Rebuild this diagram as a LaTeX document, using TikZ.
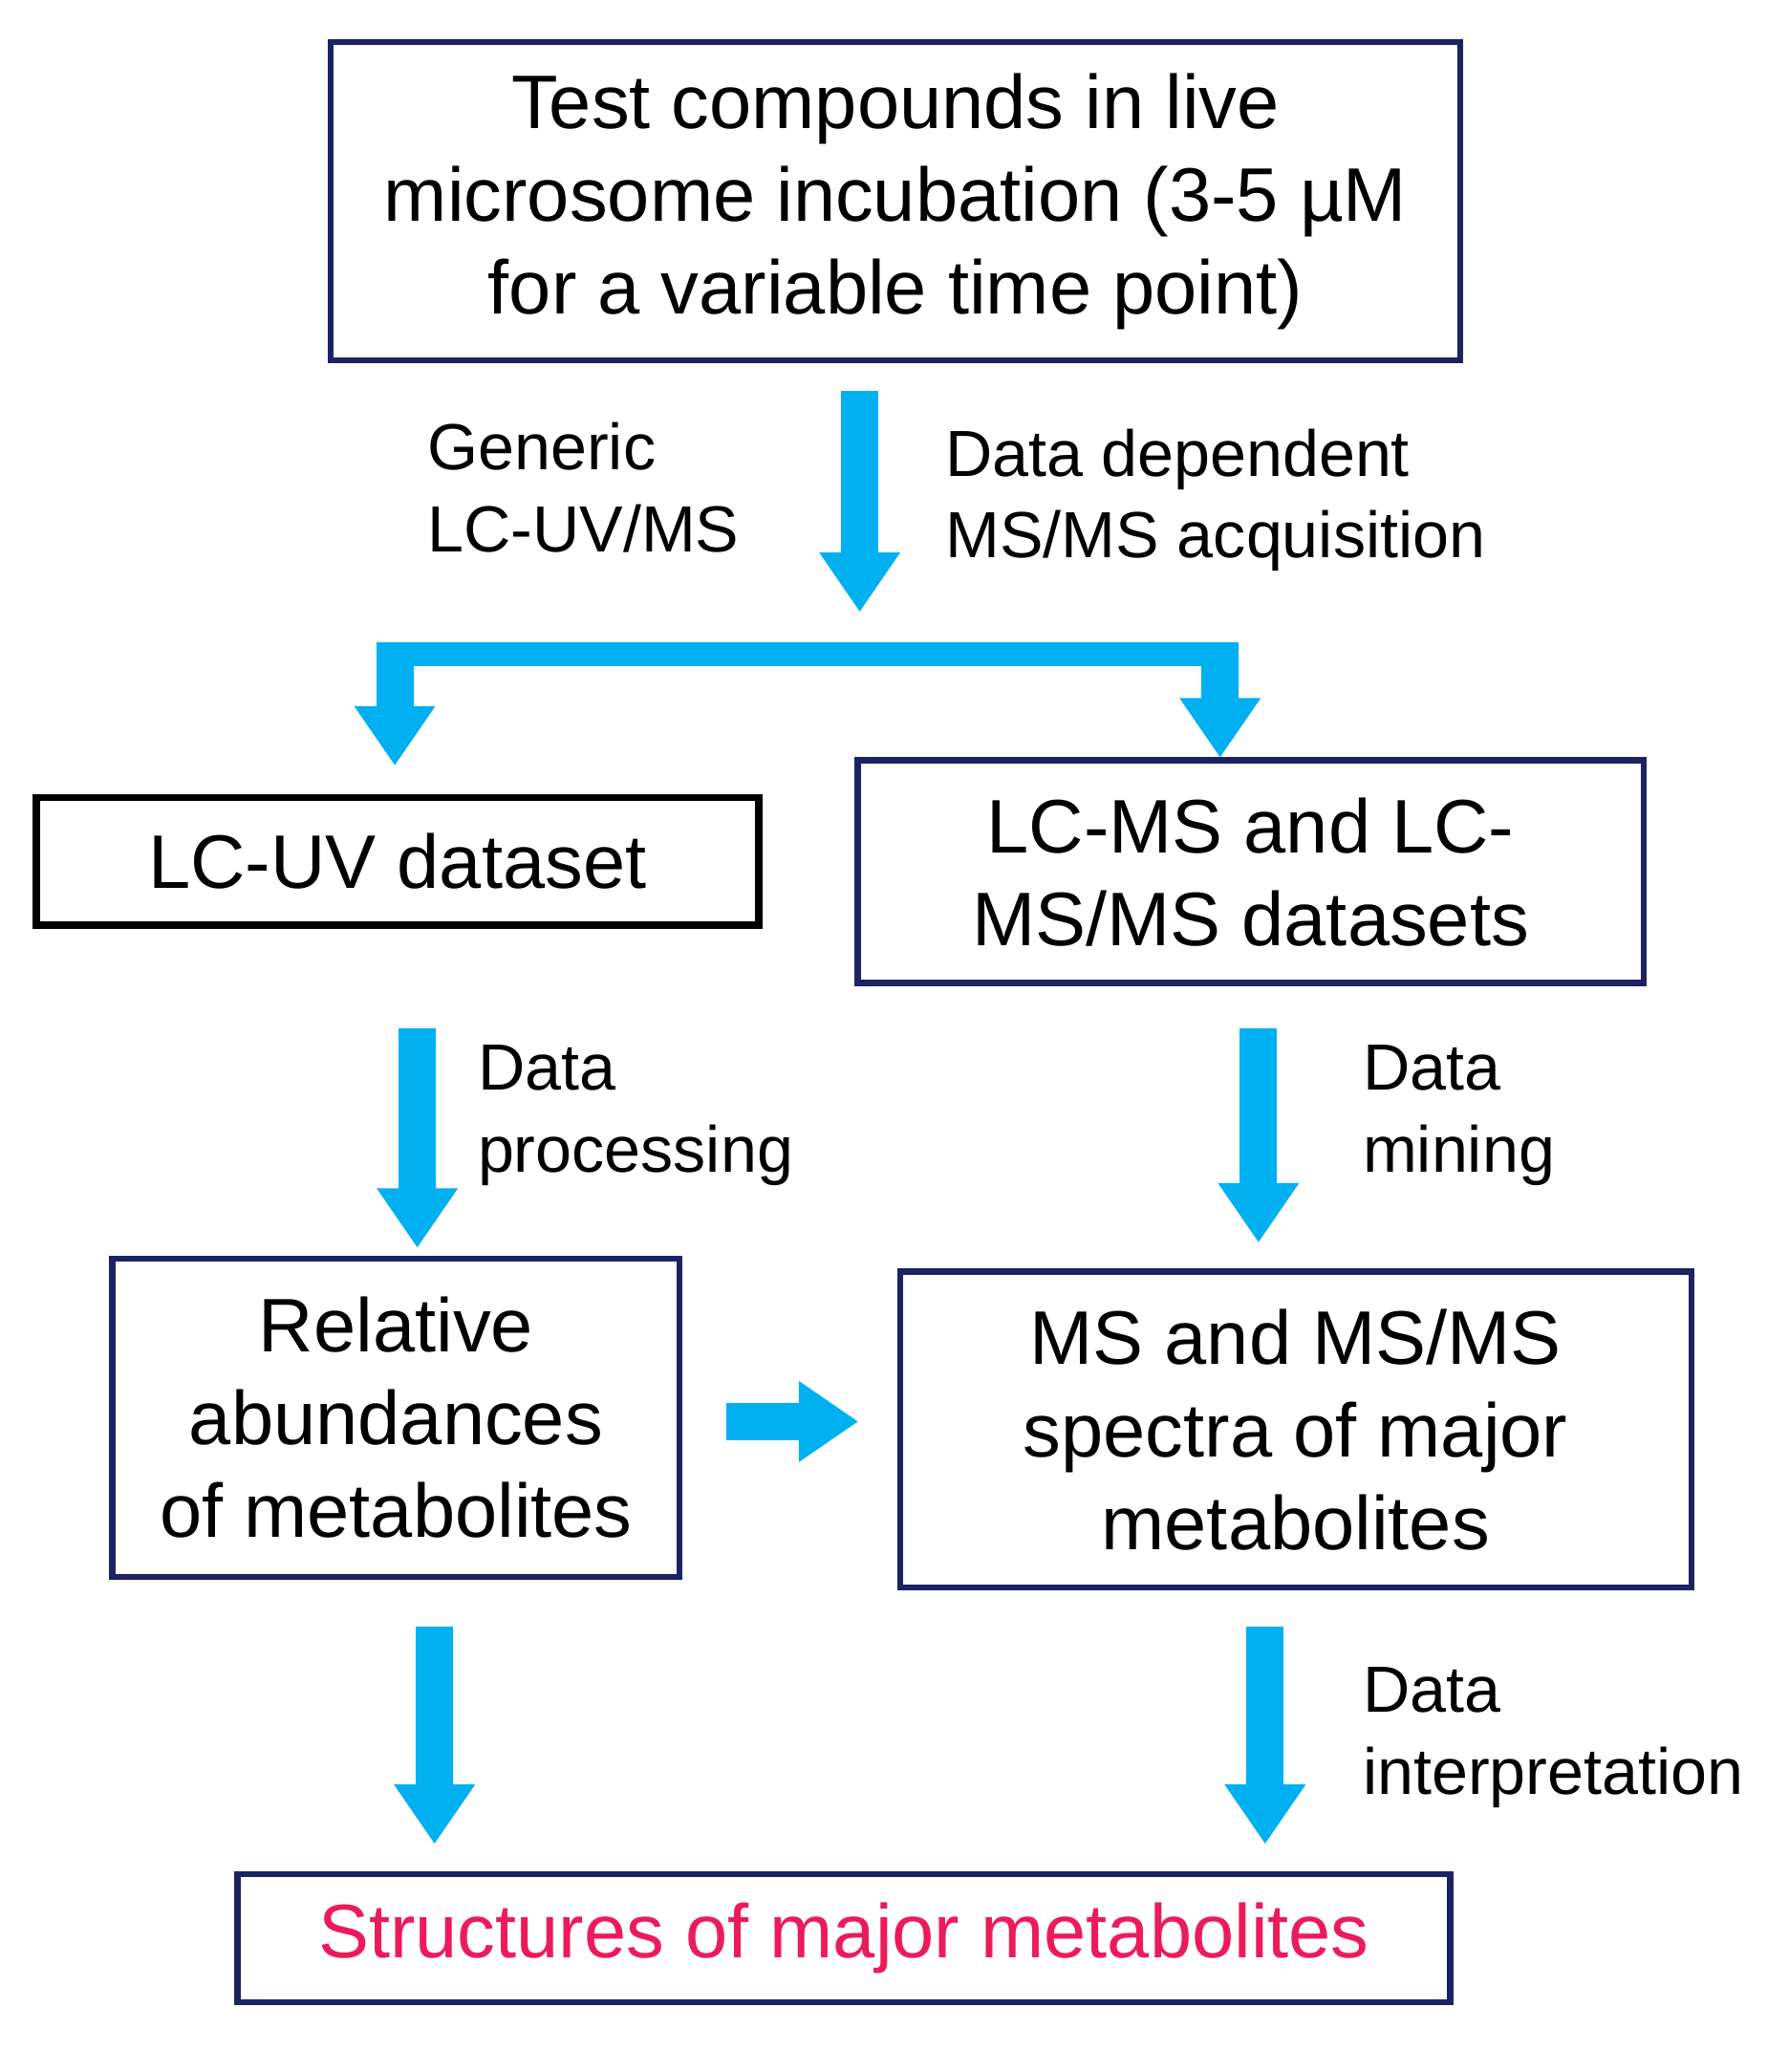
\documentclass[tikz,border=0pt]{standalone}
\usepackage{fontspec}
\setmainfont{Liberation Sans}
\usetikzlibrary{arrows.meta}
\definecolor{navy}{HTML}{1C2363}
\definecolor{flow}{HTML}{00B0F0}
\definecolor{pinkred}{HTML}{EC1A5B}
\begin{document}
\begin{tikzpicture}[x=0.01cm,y=-0.01cm,
    box/.style={draw=navy,line width=1.3pt,inner sep=0pt,align=center,
      font=\fontsize{16.3}{19.9}\selectfont},
    lbl/.style={anchor=north west,align=left,inner sep=0pt,
      font=\fontsize{14}{17.6}\selectfont},
    flowarrow/.style={draw=flow,line width=0.28cm,
      -{Triangle[width=0.58cm,length=0.45cm]}}]
  \useasboundingbox (0,0) rectangle (1350,1564);
  % boxes
  \node[box,minimum width=8.52cm,minimum height=2.4cm] (top) at (676,152)
    {Test compounds in live\\microsome incubation (3-5 µM\\for a variable time point)};
  \node[box,draw=black,line width=1.6pt,minimum width=5.45cm,minimum height=0.96cm] (uv)
    at (300,650) {LC-UV dataset};
  \node[box,minimum width=5.93cm,minimum height=1.68cm] (ms) at (944,658)
    {LC-MS and LC-\\MS/MS datasets};
  \node[box,minimum width=4.28cm,minimum height=2.4cm] (rel) at (299,1070)
    {Relative\\abundances\\of metabolites};
  \node[box,minimum width=5.97cm,minimum height=2.38cm] (spec) at (978,1079)
    {MS and MS/MS\\spectra of major\\metabolites};
  \node[box,text=pinkred,minimum width=9.15cm,minimum height=0.97cm] (str) at (637,1463)
    {Structures of major metabolites};
  % arrow coordinates
  \coordinate (a1) at (649,295); \coordinate (a1e) at (649,462);
  \coordinate (bl) at (298,494); \coordinate (br) at (921,494);
  \coordinate (ble) at (298,578); \coordinate (bre) at (921,572);
  \coordinate (c1) at (315,776); \coordinate (c1e) at (315,942);
  \coordinate (c2) at (950,776); \coordinate (c2e) at (950,938);
  \coordinate (h1) at (548,1073); \coordinate (h1e) at (648,1073);
  \coordinate (d1) at (328,1228); \coordinate (d1e) at (328,1392);
  \coordinate (d2) at (955,1228); \coordinate (d2e) at (955,1392);
  % arrows
  \draw[flowarrow] (a1) -- (a1e);
  \draw[flow,line width=0.18cm] (284,494) -- (935,494);
  \draw[flowarrow] (bl) -- (ble);
  \draw[flowarrow] (br) -- (bre);
  \draw[flowarrow] (c1) -- (c1e);
  \draw[flowarrow] (c2) -- (c2e);
  \draw[flowarrow] (h1) -- (h1e);
  \draw[flowarrow] (d1) -- (d1e);
  \draw[flowarrow] (d2) -- (d2e);
  % labels
  \node[lbl] (l1) at (322,318) {Generic\\LC-UV/MS};
  \node[lbl] (l2) at (713,323) {Data dependent\\MS/MS acquisition};
  \node[lbl] (l3) at (360,788) {Data\\processing};
  \node[lbl] (l4) at (1028,788) {Data\\mining};
  \node[lbl] (l5) at (1028,1258) {Data\\interpretation};
\end{tikzpicture}
\end{document}
